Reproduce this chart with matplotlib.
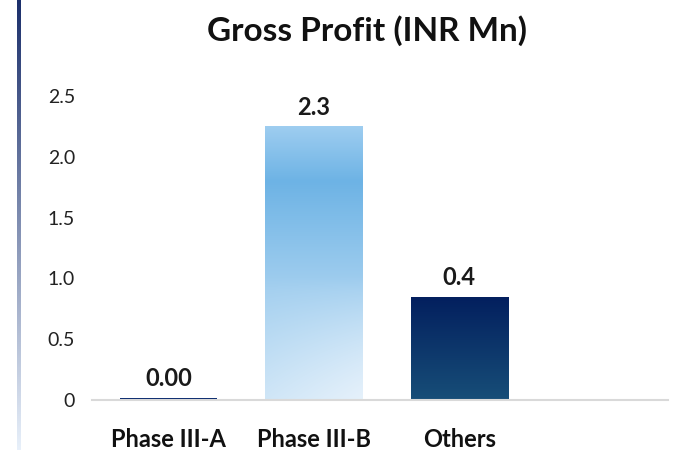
import numpy as np
import matplotlib.pyplot as plt
from matplotlib.colors import to_rgb

categories = ["Phase III-A", "Phase III-B", "Others"]
values = [0.02, 2.25, 0.85]
value_labels = ["0.00", "2.3", "0.4"]
yticks = [0, 0.5, 1.0, 1.5, 2.0, 2.5]
ytick_labels = ["0", "0.5", "1.0", "1.5", "2.0", "2.5"]

plt.rcParams['font.family'] = ['Lato', 'DejaVu Sans']

fig = plt.figure(figsize=(6.75, 4.5), dpi=100)
ax = fig.add_axes([0.136, 0.111, 0.854, 0.676])


def mix(c1, c2, t):
    a = np.array(to_rgb(c1))
    b = np.array(to_rgb(c2))
    return a + (b - a) * t


def grad_light(n=200, m=60):
    img = np.zeros((n, m, 3))
    stops = [(0.0, "#9ecdf0"), (0.2, "#6db3e5"), (0.6, "#a3cfef"), (1.0, "#c6e1f5")]
    for i in range(n):
        t = i / (n - 1)
        for k in range(len(stops) - 1):
            if stops[k][0] <= t <= stops[k + 1][0]:
                u = (t - stops[k][0]) / (stops[k + 1][0] - stops[k][0])
                col = mix(stops[k][1], stops[k + 1][1], u)
                break
        for j in range(m):
            x = j / (m - 1)
            w = max(0.0, t - 0.55) / 0.45 * (0.3 + 0.7 * x)
            img[i, j] = col + (np.array([0.93, 0.96, 0.99]) - col) * min(w, 1) * 0.8
    return img


def grad_dark(n=200):
    img = np.zeros((n, 2, 3))
    for i in range(n):
        img[i, :] = mix("#031f5e", "#174e78", i / (n - 1))
    return img


x = np.arange(len(categories))
width = 0.67
bars = ax.bar(x, values, width=width, color="none", edgecolor="none")

fills = [None, grad_light(), grad_dark()]
for b, img in zip(bars, fills):
    x0, y0 = b.get_x(), b.get_y()
    w, h = b.get_width(), b.get_height()
    if img is None:
        b.set_facecolor("#0a2a6e")
        continue
    im = ax.imshow(img, extent=[x0, x0 + w, y0, y0 + h], aspect="auto",
                   interpolation="bilinear", zorder=2)
    im.set_clip_path(b)

for b, lab in zip(bars, value_labels):
    ax.text(b.get_x() + b.get_width() / 2, b.get_height() + 0.06, lab,
            ha="center", va="bottom", fontsize=17, fontweight="bold",
            color="#1a1a1a", clip_on=False)

ax.set_xlim(-0.53, 3.44)
ax.set_ylim(0, 2.5)
ax.set_yticks(yticks)
ax.set_yticklabels(ytick_labels, fontsize=14, color="#222222")
ax.set_xticks(x)
ax.set_xticklabels(categories, fontsize=17, fontweight="bold", color="#111111")
ax.tick_params(axis="both", length=0)
ax.tick_params(axis="y", pad=12)
ax.tick_params(axis="x", pad=20)
for s in ["top", "right", "left"]:
    ax.spines[s].set_visible(False)
ax.spines["bottom"].set_color("#d9d9d9")
ax.spines["bottom"].set_linewidth(1.5)

fig.text(0.543, 0.933, "Gross Profit (INR Mn)", ha="center", va="center",
         fontsize=24, fontweight="bold", color="#111111")

# gradient rule on the left edge
lax = fig.add_axes([17 / 675, 0.0, 4 / 675, 1.0])
rule = np.zeros((200, 1, 3))
for i in range(200):
    rule[i, 0] = mix("#1b2f6b", "#e8f0fa", i / 199)
lax.imshow(rule, aspect="auto", extent=[0, 1, 0, 1], origin="upper")
lax.axis("off")

fig.savefig("out.png", dpi=100)
